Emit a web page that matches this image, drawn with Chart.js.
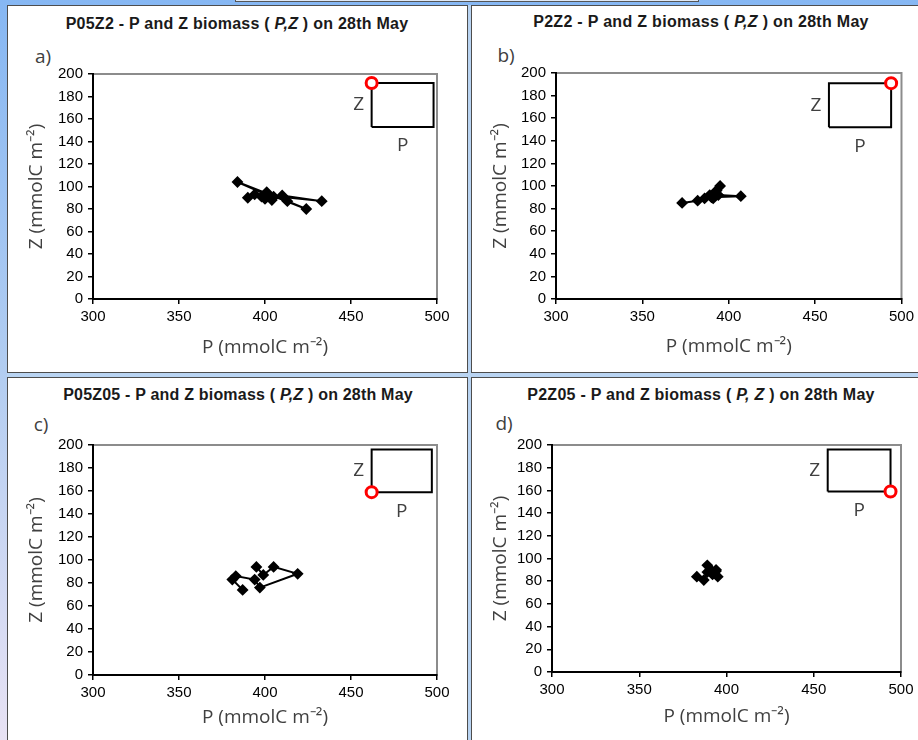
<!DOCTYPE html>
<html>
<head>
<meta charset="utf-8">
<script src="https://cdn.jsdelivr.net/npm/chart.js@4.4.0/dist/chart.umd.min.js"></script>
<style>
    body { margin: 0; }
    #page {
        position: relative; width: 918px; height: 740px; overflow: hidden;
        background: linear-gradient(to bottom, #86b7f3 0%, #b2cdf1 50%, #e8e2f4 100%);
    }
    .panel { position: absolute; background: #fff; border: 1px solid #4d4d4d; box-sizing: border-box; }
    .sep { position: absolute; background: #b9d4f2; }
    .tab { position: absolute; left: 235px; top: -5px; width: 464px; height: 7px; background: #dfe9f7; border: 1px solid #555; box-sizing: border-box; }
    .title {
        position: absolute; transform: translate(-50%, -50%); white-space: nowrap;
        font: bold 16px "Liberation Sans", Arial, sans-serif; color: #1a1a1a; letter-spacing: 0.25px;
    }
    .tag { position: absolute; transform: translate(-50%, -50%); font: 19px "Open Sans", sans-serif; color: #404040; }
    canvas { position: absolute; }
</style>
</head>
<body>
<div id="page">
    <div class="tab"></div>
    <div class="sep" style="left:467px;top:5px;width:5px;height:735px"></div>
    <div class="sep" style="left:7px;top:372px;width:911px;height:6px"></div>
    <div class="panel" style="left:7px;top:5px;width:461px;height:368px"></div>
    <div class="panel" style="left:471px;top:5px;width:460px;height:368px"></div>
    <div class="panel" style="left:7px;top:377px;width:461px;height:380px"></div>
    <div class="panel" style="left:471px;top:377px;width:460px;height:380px"></div>

    <div class="title" style="left:237px;top:24px">P05Z2 - P and Z biomass ( <i>P,Z</i> ) on 28th May</div>
    <div class="title" style="left:701px;top:22px;letter-spacing:0.3px">P2Z2 - P and Z biomass ( <i>P,Z</i> ) on 28th May</div>
    <div class="title" style="left:238px;top:395px;letter-spacing:0.2px">P05Z05 - P and Z biomass ( <i>P,Z</i> ) on 28th May</div>
    <div class="title" style="left:701px;top:395px">P2Z05 - P and Z biomass ( <i>P, Z</i> ) on 28th May</div>

    <div class="tag" style="left:43px;top:56px">a)</div>
    <div class="tag" style="left:506px;top:55px">b)</div>
    <div class="tag" style="left:41px;top:424px">c)</div>
    <div class="tag" style="left:504px;top:423px">d)</div>

    <canvas id="chartA" width="459" height="366" style="left:8px;top:6px"></canvas>
    <canvas id="chartB" width="446" height="366" style="left:472px;top:6px"></canvas>
    <canvas id="chartC" width="459" height="362" style="left:8px;top:378px"></canvas>
    <canvas id="chartD" width="446" height="362" style="left:472px;top:378px"></canvas>
</div>

<script>
// axes
const xTicks = [300, 350, 400, 450, 500];
const yTicks = [0, 20, 40, 60, 80, 100, 120, 140, 160, 180, 200];

// a) P05Z2
const pA = [390, 394, 398, 401, 404, 410, 433, 402, 384, 424, 413, 405, 400];
const zA = [90, 93, 91, 95, 88, 92, 87, 92, 104, 80, 87, 91, 89];
// b) P2Z2
const pB = [373, 382, 386, 389, 391, 393, 395, 392, 394, 407, 390];
const zB = [85, 87, 89, 92, 89, 96, 100, 94, 92, 91, 90];
// c) P05Z05
const pC = [387, 381, 383, 394, 397, 419, 405, 399, 395];
const zC = [74, 83, 86, 83, 76, 88, 94, 87, 94];
// d) P2Z05
const pD = [383, 387, 389, 389, 391, 394, 395, 392, 394];
const zD = [84, 81, 88, 94, 90, 89, 84, 86, 90];

// inset (P,Z) sketch box and marked corner, in axis units
const boxPA = [462, 498], boxZA = [153, 192], markA = [462, 192];
const boxPB = [458, 494], boxZB = [152, 191], markB = [494, 191];
const boxPC = [462, 497], boxZC = [159, 196], markC = [462, 159];
const boxPD = [458, 494], boxZD = [159, 196], markD = [494, 159];

/**
 * 坐标框 + 小图标注
 */
const framePlugin = {
    id: 'frame',
    beforeDraw(chart) {
        const a = chart.chartArea, ctx = chart.ctx;
        ctx.save();
        ctx.strokeStyle = '#8c8c8c';
        ctx.lineWidth = 2;
        ctx.strokeRect(a.left, a.top, a.right - a.left, a.bottom - a.top);
        ctx.restore();
    },
    afterDatasetsDraw(chart) {
        const box = chart.options.plugins.frame;
        const x = chart.scales.x, y = chart.scales.y, ctx = chart.ctx;
        ctx.save();
        ctx.fillStyle = '#404040';
        ctx.font = '19px "Open Sans"';
        ctx.textAlign = 'center';
        ctx.textBaseline = 'middle';
        ctx.fillText('Z', x.getPixelForValue(box.p[0]) - 13, y.getPixelForValue((box.z[0] + box.z[1]) / 2));
        ctx.fillText('P', x.getPixelForValue((box.p[0] + box.p[1]) / 2), y.getPixelForValue(box.z[0]) + 19);
        ctx.restore();
    }
};

function toPoints(ps, zs) {
    return ps.map(function (p, i) { return {x: p, y: zs[i]}; });
}

function makeChart(id, ps, zs, boxP, boxZ, mark, lay) {
    const c = document.getElementById(id);
    const box = [
        {x: boxP[0], y: boxZ[0]}, {x: boxP[1], y: boxZ[0]},
        {x: boxP[1], y: boxZ[1]}, {x: boxP[0], y: boxZ[1]}, {x: boxP[0], y: boxZ[0]}
    ];
    const font = {family: 'Liberation Sans', size: 15};
    const titleFont = {family: 'Open Sans', size: 19, lineHeight: 1.2};
    return new Chart(c.getContext('2d'), {
        type: 'scatter',
        data: {
            datasets: [{
                data: [{x: mark[0], y: mark[1]}],
                pointStyle: 'circle', pointRadius: 5.5, borderWidth: 3,
                borderColor: '#ff0000', backgroundColor: '#ffffff', clip: false
            }, {
                data: box, showLine: true, borderColor: '#000', borderWidth: 2,
                pointRadius: 0, clip: false
            }, {
                data: toPoints(ps, zs), showLine: true, borderColor: '#000', borderWidth: 2,
                pointStyle: 'rectRot', pointRadius: 4.5, backgroundColor: '#000'
            }]
        },
        options: {
            responsive: false,
            animation: false,
            events: [],
            layout: {padding: {left: 0, top: lay.top, right: lay.right, bottom: lay.bottom}},
            plugins: {legend: {display: false}, tooltip: {enabled: false}, frame: {p: boxP, z: boxZ}},
            scales: {
                x: {
                    type: 'linear', min: xTicks[0], max: xTicks[xTicks.length - 1],
                    afterBuildTicks: function (s) { s.ticks = xTicks.map(function (v) { return {value: v}; }); },
                    ticks: {color: '#000', font: font, padding: 4},
                    grid: {drawOnChartArea: false, drawTicks: true, tickLength: 5, color: '#000', lineWidth: 1.5},
                    border: {color: '#000', width: 2},
                    title: {display: true, text: 'P (mmolC m⁻²)', color: '#404040', font: titleFont, padding: {top: 0, bottom: 2}},
                    afterFit: function (s) { s.height = lay.xh; }
                },
                y: {
                    type: 'linear', min: yTicks[0], max: yTicks[yTicks.length - 1],
                    afterBuildTicks: function (s) { s.ticks = yTicks.map(function (v) { return {value: v}; }); },
                    ticks: {color: '#000', font: font, padding: 5},
                    grid: {drawOnChartArea: false, drawTicks: true, tickLength: 5, color: '#000', lineWidth: 1.5},
                    border: {color: '#000', width: 2},
                    title: {display: true, text: 'Z (mmolC m⁻²)', color: '#404040', font: titleFont, padding: {top: 17, bottom: 0}},
                    afterFit: function (s) { s.width = lay.yw; }
                }
            }
        },
        plugins: [framePlugin]
    });
}

makeChart('chartA', pA, zA, boxPA, boxZA, markA, {top: 68, right: 30, yw: 85, xh: 62, bottom: 11});
makeChart('chartB', pB, zB, boxPB, boxZB, markB, {top: 67, right: 16, yw: 84, xh: 61, bottom: 12});
makeChart('chartC', pC, zC, boxPC, boxZC, markC, {top: 67, right: 30, yw: 85, xh: 56, bottom: 9});
makeChart('chartD', pD, zD, boxPD, boxZD, markD, {top: 67, right: 17, yw: 80, xh: 58, bottom: 10});
</script>
</body>
</html>
